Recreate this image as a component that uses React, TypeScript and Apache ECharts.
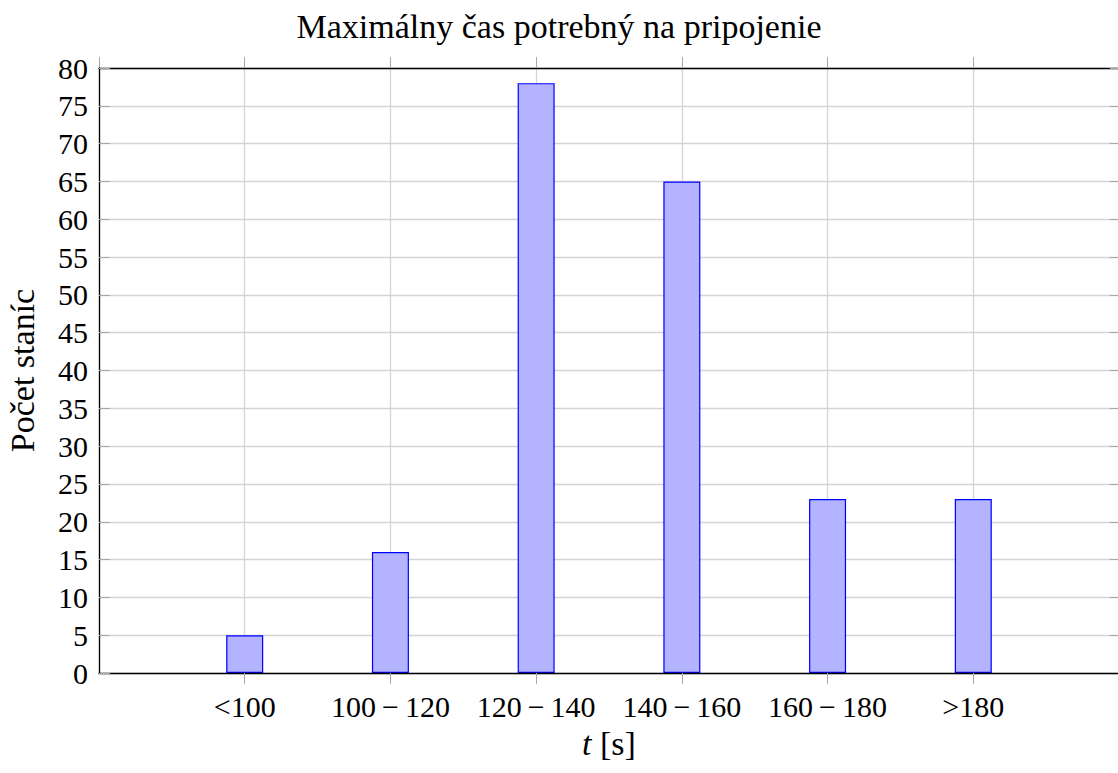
import React, { useEffect, useRef } from "react";
import * as echarts from "echarts";

const titleText = "Maximálny čas potrebný na pripojenie";
const categories = ["<100", "100\u2009\u2212\u2009120", "120\u2009\u2212\u2009140", "140\u2009\u2212\u2009160", "160\u2009\u2212\u2009180", ">180"];
const counts = [5, 16, 78, 65, 23, 23];
const yAxisName = "Počet staníc";
const yMin = 0;
const yMax = 80;
const yStep = 5;

const FONT = "'Liberation Serif', 'DejaVu Serif', serif";
const FS = 30;
const FS_BIG = 34;

export default function App() {
  const ref = useRef<HTMLDivElement>(null);
  useEffect(() => {
    if (!ref.current) return;
    const chart = echarts.init(ref.current, null, { renderer: "svg" });
    const gridColor = "#d4d4d4";
    const tickColor = "#a8a8a8";
    const labelFmt = (v: number) => {
      const i = Math.round(v);
      return Math.abs(v - i) < 1e-6 && i >= 0 && i < categories.length ? categories[i] : "";
    };
    chart.setOption({
      animation: false,
      backgroundColor: "#ffffff",
      textStyle: { fontFamily: FONT },
      title: {
        text: titleText,
        left: "center",
        top: 4,
        textStyle: { fontFamily: FONT, fontSize: FS_BIG, fontWeight: "normal", color: "#000" },
      },
      grid: { left: 99, right: -1, top: 68, bottom: 100, containLabel: false, outerBoundsMode: "none" },
      xAxis: [
        {
          type: "value",
          position: "bottom",
          z: 5,
          min: -1,
          max: 6,
          interval: 1,
          axisLine: { show: true, onZero: false, lineStyle: { color: "#000", width: 1.3 } },
          axisTick: { show: true, inside: false, length: 11, lineStyle: { color: tickColor } },
          axisLabel: {
            formatter: labelFmt,
            fontFamily: FONT,
            fontSize: FS,
            color: "#000",
            margin: 18,
            showMinLabel: false,
            showMaxLabel: false,
          },
          splitLine: { show: false },
          name: "{i|t} [s]",
          nameLocation: "middle",
          nameGap: 53,
          nameTextStyle: {
            fontFamily: FONT,
            fontSize: FS_BIG,
            color: "#000",
            rich: { i: { fontFamily: FONT, fontSize: FS_BIG, fontStyle: "italic", color: "#000" } },
          },
        },
        {
          type: "value",
          position: "top",
          min: -1,
          max: 6,
          interval: 1,
          axisLine: { show: true, onZero: false, lineStyle: { color: "#000", width: 1.3 } },
          axisTick: { show: true, inside: false, length: 11, lineStyle: { color: tickColor } },
          axisLabel: { show: false },
          splitLine: { show: true, lineStyle: { color: gridColor, width: 1.3 } },
        },
      ],
      yAxis: [
        {
          type: "value",
          position: "left",
          z: 5,
          min: yMin,
          max: yMax,
          interval: yStep,
          axisLine: { show: true, onZero: false, lineStyle: { color: "#000", width: 1.3 } },
          axisTick: { show: true, inside: true, length: 11, lineStyle: { color: tickColor } },
          axisLabel: { fontFamily: FONT, fontSize: FS, color: "#000", margin: 11 },
          splitLine: { show: false },
          name: yAxisName,
          nameLocation: "middle",
          nameGap: 60,
          nameTextStyle: { fontFamily: FONT, fontSize: FS_BIG, color: "#000" },
        },
        {
          type: "value",
          position: "right",
          min: yMin,
          max: yMax,
          interval: yStep,
          axisLine: { show: true, onZero: false, lineStyle: { color: "#000", width: 1.3 } },
          axisTick: { show: true, inside: true, length: 9, lineStyle: { color: tickColor } },
          axisLabel: { show: false },
          splitLine: { show: true, lineStyle: { color: gridColor, width: 1.3 } },
        },
      ],
      series: [
        {
          type: "bar",
          xAxisIndex: 0,
          yAxisIndex: 0,
          barWidth: 37,
          data: counts.map((c, i) => [i, c]),
          itemStyle: { color: "#b3b3ff", borderColor: "#0000ff", borderWidth: 1.2 },
        },
      ],
    });
    return () => chart.dispose();
  }, []);
  return (
    <div
      ref={ref}
      style={{ position: "fixed", left: 0, top: 0, width: 1118, height: 773, background: "#fff" }}
    />
  );
}
